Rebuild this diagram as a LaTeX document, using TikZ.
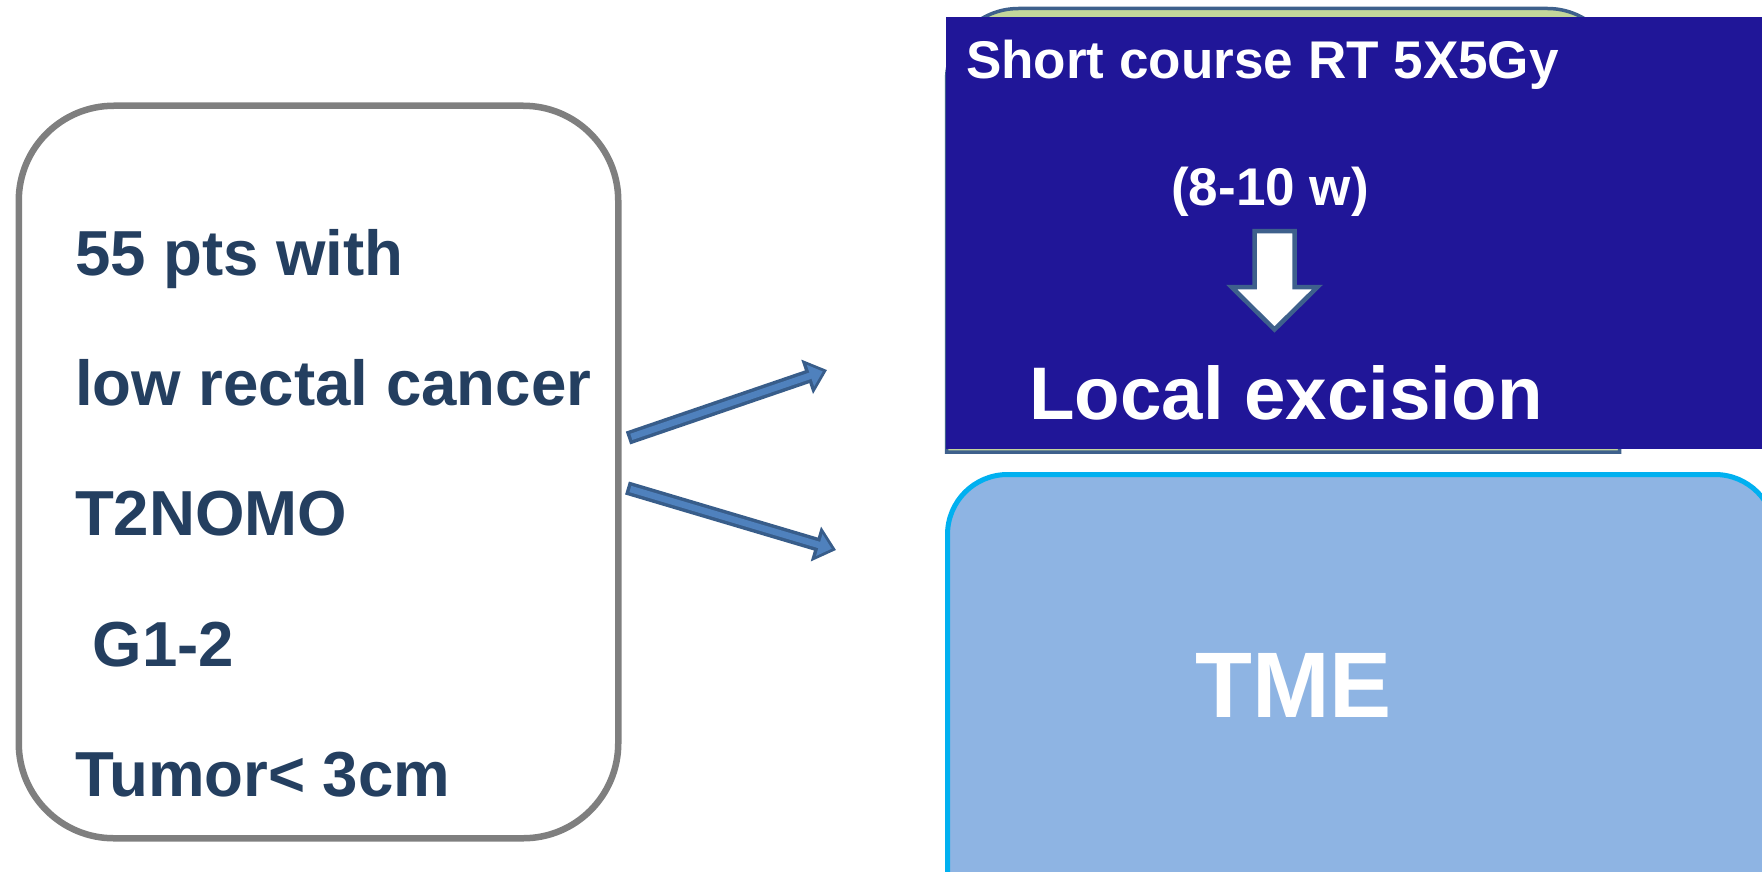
\documentclass[tikz,border=0pt]{standalone}
\usepackage{fontspec}
\setmainfont{Liberation Sans}
\usetikzlibrary{arrows.meta,positioning}

\definecolor{boxgray}{RGB}{127,127,127}
\definecolor{ptsnavy}{RGB}{36,63,96}
\definecolor{srtblue}{RGB}{32,22,152}
\definecolor{srtgreen}{RGB}{195,214,155}
\definecolor{srtedge}{RGB}{62,96,140}
\definecolor{arredge}{RGB}{56,93,138}
\definecolor{arrfill}{RGB}{79,129,189}
\definecolor{tmefill}{RGB}{142,180,227}
\definecolor{tmeedge}{RGB}{0,176,240}

\begin{document}
\begin{tikzpicture}[
  every node/.style={inner sep=0pt, outer sep=0pt},
  ptsbox/.style={draw=boxgray, line width=0.065cm, rounded corners=0.95cm, fill=white,
                 minimum width=5.995cm, minimum height=7.325cm},
  ptstext/.style={anchor=base west, text=ptsnavy, font=\fontsize{18.1}{22}\selectfont\bfseries},
  srtbox/.style={fill=srtblue, minimum width=8.24cm, minimum height=4.32cm},
  srttext/.style={anchor=base, text=white, font=\fontsize{15.1}{18}\selectfont\bfseries},
  tmebox/.style={draw=tmeedge, fill=tmefill, line width=0.05cm, rounded corners=0.6cm,
                 minimum width=8.275cm, minimum height=4.565cm},
  blkout/.style={line width=0.135cm, arredge, -{Triangle[length=0.21cm, width=0.35cm]}},
  blkin/.style={line width=0.065cm, arrfill, -{Triangle[length=0.13cm, width=0.22cm]},
                shorten <=0.035cm, shorten >=0.045cm},
]
\useasboundingbox (0,0) rectangle (17.62,8.71);
\clip (0,0) rectangle (17.62,8.71);

%% --- Patients ---
\node[ptsbox] (pts) at (3.185,3.99) {};
\node[ptstext] (l1) at (0.75,5.96) {55 pts with};
\node[ptstext] (l2) at (0.75,4.66) {low rectal cancer};
\node[ptstext] (l3) at (0.75,3.36) {T2NOMO};
\node[ptstext] (l4) at (0.75,2.05) {\ G1-2};
\node[ptstext] (l5) at (0.75,0.75) {Tumor< 3cm};

%% --- Short course arm ---
\draw[srtedge, fill=srtgreen, line width=0.035cm]
  (9.465,4.19) -- (9.465,7.905) arc[start angle=180, end angle=90, radius=0.72]
  -- (15.475,8.625) arc[start angle=90, end angle=0, radius=0.72] -- (16.195,4.19) -- cycle;
\node[srtbox] (srt) at (13.58,6.38) {};
\node[srttext, anchor=base west] (rt) at (9.66,7.92) {Short course RT 5X5Gy};
\node[srttext] (wk) at (12.70,6.66) {(8-10 w)};
\draw[srtedge, fill=white, line width=0.045cm, line join=miter]
  (12.545,6.40) -- (12.945,6.40) -- (12.945,5.84) -- (13.175,5.84)
  -- (12.745,5.415) -- (12.315,5.84) -- (12.545,5.84) -- cycle;
\node[srttext, font=\fontsize{21.2}{25}\selectfont\bfseries] (le) at (12.86,4.52) {Local excision};

%% --- TME arm ---
\node[tmebox] (tme) at (13.6125,1.6825) {};
\node[srttext, font=\fontsize{26.5}{31}\selectfont\bfseries] (tmet) at (12.935,1.54) {TME};

%% --- Arrows ---
\coordinate (up0) at (6.28,4.33);
\coordinate (up1) at (8.27,5.01);
\coordinate (dn0) at (6.27,3.83);
\coordinate (dn1) at (8.36,3.21);
\draw[blkout] (up0) -- (up1);
\draw[blkin]  (up0) -- (up1);
\draw[blkout] (dn0) -- (dn1);
\draw[blkin]  (dn0) -- (dn1);

\end{tikzpicture}
\end{document}
